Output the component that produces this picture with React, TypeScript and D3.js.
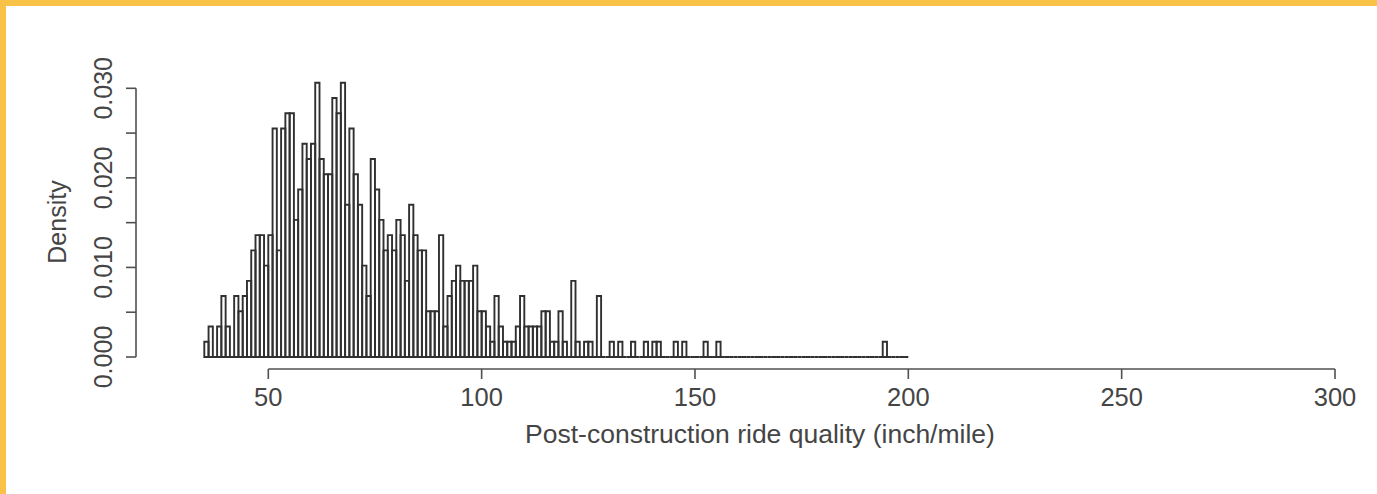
import React from "react";
import * as d3 from "d3";

// Histogram bins of width 1 (inch/mile), counts
const BIN_START = 35;
const BIN_END = 200;
const BIN_WIDTH = 1;
// bins 35..67
const countsLow = [1, 2, 0, 2, 4, 2, 0, 4, 3, 4, 5, 7, 8, 8, 6, 8, 15, 7, 15, 16, 16, 9, 11, 14, 13, 14, 18, 13, 12, 12, 17, 16, 18];
// bins 68..109
const countsMid = [10, 15, 12, 10, 6, 4, 13, 11, 9, 7, 8, 7, 9, 8, 5, 10, 8, 7, 7, 3, 3, 3, 8, 2, 4, 5, 6, 5, 5, 5, 6, 3, 3, 2, 1, 4, 2, 1, 1, 1, 2, 4];
// bins 110..155
const countsHigh = [2, 2, 2, 2, 3, 3, 1, 1, 3, 1, 0, 5, 1, 0, 1, 1, 0, 4, 0, 0, 1, 0, 1, 0, 0, 1, 0, 0, 1, 0, 1, 1, 0, 0, 0, 1, 0, 1, 0, 0, 0, 0, 1, 0, 0, 1];
// isolated outlier bins
const tailBins = [194];
const tailCounts = [1];

const X_TICKS = [50, 100, 150, 200, 250, 300];
const Y_TICKS = [0, 0.005, 0.01, 0.015, 0.02, 0.025, 0.03];
const Y_LABELS = [0, 0.01, 0.02, 0.03];
const X_TITLE = "Post-construction ride quality (inch/mile)";
const Y_TITLE = "Density";

export default function App() {
  const W = 1377;
  const H = 494;
  const nBins = (BIN_END - BIN_START) / BIN_WIDTH;
  const counts: number[] = new Array(nBins).fill(0);
  [...countsLow, ...countsMid, ...countsHigh].forEach((c, i) => (counts[i] = c));
  tailBins.forEach((b, i) => (counts[(b - BIN_START) / BIN_WIDTH] = tailCounts[i]));
  const total = d3.sum(counts);
  const bins = counts.map((c, i) => ({
    x0: BIN_START + i * BIN_WIDTH,
    x1: BIN_START + (i + 1) * BIN_WIDTH,
    d: c / (total * BIN_WIDTH),
  }));

  const x = d3.scaleLinear().domain([50, 300]).range([268.3, 1335]);
  const y = d3.scaleLinear().domain([0, 0.03]).range([357, 88.3]);
  const axisY = 369;
  const axisX = 136;
  const font = "'Liberation Sans', Arial, Helvetica, sans-serif";
  const textCol = "#454545";
  const lineCol = "#505050";
  const fmt = d3.format(".3f");

  return (
    <svg
      width={W}
      height={H}
      style={{ position: "fixed", left: 0, top: 0, display: "block", background: "#fff" }}
    >
      <rect x={0} y={0} width={W} height={H} fill="#fff" />
      {/* orange frame edges */}
      <rect x={0} y={0} width={W} height={6} fill="#F8C246" />
      <rect x={0} y={0} width={6} height={H} fill="#F8C246" />

      {/* histogram bars */}
      <g fill="none" stroke="#303030" strokeWidth={1.9}>
        {bins.map((b, i) => {
          const x0 = x(b.x0);
          const x1 = x(b.x1);
          const y0 = y(0);
          const y1 = y(b.d);
          return <path key={i} d={`M${x0},${y0}L${x0},${y1}L${x1},${y1}L${x1},${y0}Z`} />;
        })}
      </g>

      {/* x axis */}
      <g stroke={lineCol} strokeWidth={1.6}>
        <line x1={x(X_TICKS[0])} x2={x(X_TICKS[X_TICKS.length - 1])} y1={axisY} y2={axisY} />
        {X_TICKS.map((t) => (
          <line key={t} x1={x(t)} x2={x(t)} y1={axisY} y2={axisY + 10} />
        ))}
      </g>
      <g fontFamily={font} fontSize={25.5} fill={textCol} textAnchor="middle">
        {X_TICKS.map((t) => (
          <text key={t} x={x(t)} y={406}>
            {t}
          </text>
        ))}
        <text x={760} y={443} fontSize={26.5}>
          {X_TITLE}
        </text>
      </g>

      {/* y axis */}
      <g stroke={lineCol} strokeWidth={1.6}>
        <line x1={axisX} x2={axisX} y1={y(0)} y2={y(0.03)} />
        {Y_TICKS.map((t) => (
          <line key={t} x1={axisX - 10} x2={axisX} y1={y(t)} y2={y(t)} />
        ))}
      </g>
      <g fontFamily={font} fontSize={25} fill={textCol} textAnchor="middle">
        {Y_LABELS.map((t) => (
          <text key={t} transform={`translate(112,${y(t)}) rotate(-90)`}>
            {fmt(t)}
          </text>
        ))}
        <text transform={`translate(66,222) rotate(-90)`}>{Y_TITLE}</text>
      </g>
    </svg>
  );
}
